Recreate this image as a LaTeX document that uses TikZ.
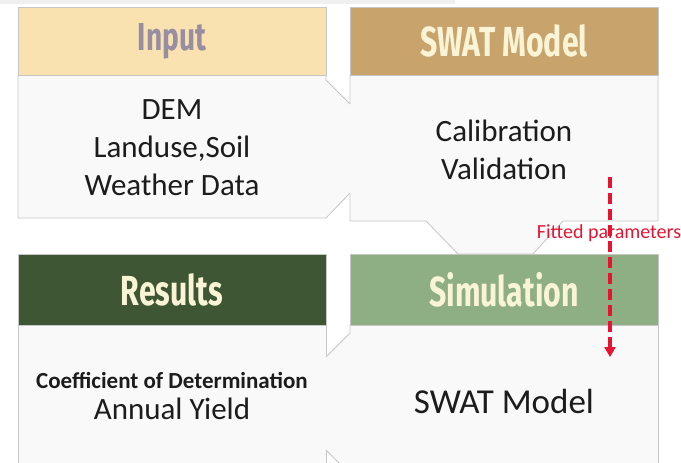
\documentclass[tikz,border=0pt]{standalone}
\usepackage{fontspec}
\setmainfont{Carlito}
\newfontfamily\headfont{Fira Sans}[FakeStretch=0.72]
\usetikzlibrary{arrows.meta,positioning}

\definecolor{inputtan}{RGB}{249,226,176}
\definecolor{inputink}{RGB}{152,142,162}
\definecolor{swatbrown}{RGB}{200,163,108}
\definecolor{resgreen}{RGB}{63,86,52}
\definecolor{simgreen}{RGB}{142,174,132}
\definecolor{creamink}{RGB}{250,244,214}
\definecolor{bodygray}{RGB}{249,249,249}
\definecolor{edgegray}{RGB}{198,198,198}
\definecolor{inkgray}{RGB}{28,28,28}
\definecolor{fitred}{RGB}{230,20,50}

\begin{document}
\begin{tikzpicture}[x=1pt, y=-1pt,
  head/.style={rectangle, draw=edgegray, line width=0.6pt, minimum width=308pt, minimum height=68pt, inner sep=0pt, font=\headfont\bfseries\fontsize{42}{44}\selectfont},
  body/.style={fill=bodygray, draw=edgegray, line width=0.8pt},
  bodyfill/.style={fill=bodygray, draw=none},
  txt/.style={align=center, text=inkgray, font=\fontsize{31}{38}\selectfont},
  fitted/.style={draw=fitred, line width=3.2pt, dash pattern=on 11pt off 5pt},
  >={Triangle[length=10pt, width=11pt]}
]
\clip (0,0) rectangle (681,463);
\fill[gray!12] (0,0) rectangle (455,4);

% bodies, back to front
\draw[body] (350,75) -- (658,75) -- (658,221) -- (563,221) -- (533,254) -- (458,254) -- (426,221) -- (350,221) -- cycle;
\fill[bodyfill] (18,75) -- (326,75) -- (326,80) -- (351,104) -- (351,193) -- (326,218) -- (18,218) -- cycle;
\draw[body, fill=none] (326,75) -- (326,80) -- (350,104);
\draw[body, fill=none] (350,193) -- (326,218) -- (18,218) -- (18,75);
\draw[body] (18,325) -- (326,325) -- (326,480) -- (18,480) -- cycle;
\fill[bodyfill] (350,325) -- (658,325) -- (658,480) -- (350,480) -- (350,474) -- (325,450) -- (325,357) -- (350,333) -- cycle;
\draw[body, fill=none] (350,325) -- (350,333) -- (326,357);
\draw[body, fill=none] (326,450) -- (350,474) -- (350,480);
\draw[body, fill=none] (658,325) -- (658,480);

% headers
\node[head, fill=inputtan,  text=inputink, font=\headfont\bfseries\fontsize{39}{42}\selectfont] (inHead) at (172,41) {Input};
\node[head, fill=swatbrown, text=creamink] (swHead)  at (504,41)    {SWAT Model};
\node[head, fill=resgreen,  text=creamink, minimum height=71pt] (resHead) at (172,289.5) {Results};
\node[head, fill=simgreen,  text=creamink, minimum height=71pt] (simHead) at (504,289.5) {Simulation};

% contents
\node[txt] (inText)  at (172,148) {DEM\\Landuse,Soil\\Weather Data};
\node[txt] (calText) at (504,150) {Calibration\\Validation};
\node[txt, font=\fontsize{35}{40}\selectfont] (simText) at (504,401) {SWAT Model};
\node[txt, font=\bfseries\fontsize{23}{26}\selectfont] (coefText) at (172,380) {Coefficient of Determination};
\node[txt, below=3pt of coefText] (yieldText) {Annual Yield};

% fitted parameters
\node[text=fitred, font=\fontsize{20}{22}\selectfont, inner sep=0pt] (fitLabel) at (609,233) {Fitted parameters};
\coordinate (fitTop) at (610,177);
\coordinate (fitEnd) at (610,357);
\draw[fitted, ->] (fitTop) -- (fitEnd);
\end{tikzpicture}
\end{document}
